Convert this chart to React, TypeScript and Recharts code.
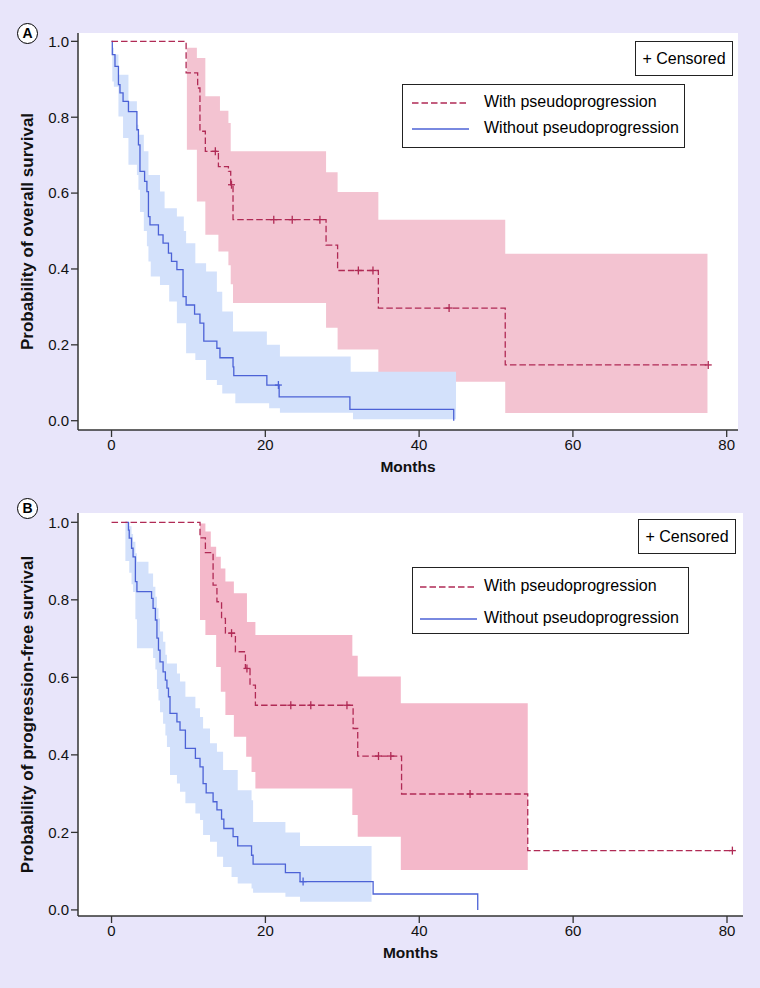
import React from 'react';
import { ComposedChart, Line, Area, Scatter, XAxis, YAxis, CartesianGrid } from 'recharts';

const FONT = '"Liberation Sans", Arial, Helvetica, sans-serif';
const BG = '#E8E5FA';
const PINK_LINE = '#B02A55';
const BLUE_LINE = '#4C62D6';
const PINK_BAND_A = '#F3C3D1';
const PINK_BAND_B = '#F4B8CA';
const BLUE_BAND = '#D3E1FB';

const monthTicks = [0, 20, 40, 60, 80];
const probTicks = [0, 0.2, 0.4, 0.6, 0.8, 1.0];

// ---- A: overall survival, with pseudoprogression ----
const withOsTime = [0, 9.7, 11.2, 11.5, 12.2, 13.9, 15.2, 15.5, 15.8, 27.9, 29.4, 34.7, 51.2, 77.6];
const withOsSurv = [1.0, 0.917, 0.877, 0.763, 0.71, 0.67, 0.657, 0.622, 0.53, 0.463, 0.396, 0.297, 0.147, 0.147];
const withOsBandTime = [9.8, 11.1, 12.2, 13.9, 14.1, 15.2, 15.5, 15.8, 27.9, 29.4, 34.7, 51.2, 77.5];
const withOsLower = [0.714, 0.578, 0.49, 0.446, 0.446, 0.41, 0.36, 0.31, 0.245, 0.188, 0.103, 0.02, 0.02];
const withOsUpper = [0.983, 0.956, 0.855, 0.855, 0.817, 0.785, 0.71, 0.71, 0.655, 0.603, 0.53, 0.44, 0.44];
const withOsCensTime = [13.5, 15.6, 21.1, 23.5, 27.1, 32.1, 34.0, 43.9, 77.6];
const withOsCensSurv = [0.71, 0.622, 0.53, 0.53, 0.53, 0.396, 0.396, 0.297, 0.147];

// ---- A: overall survival, without pseudoprogression ----
const withoutOsTime = [0, 0.1, 0.45, 0.9, 1.1, 1.5, 2.2, 3.3, 3.5, 3.7, 4.3, 4.6, 4.8, 5.0, 6.1, 6.7, 7.4, 7.8, 8.5, 9.3, 9.7, 10.8, 11.5, 12.0, 13.7, 14.1, 15.8, 15.9, 20.2, 21.8, 31.0, 44.5];
const withoutOsSurv = [1.0, 0.965, 0.934, 0.886, 0.864, 0.842, 0.815, 0.767, 0.727, 0.657, 0.631, 0.604, 0.538, 0.516, 0.49, 0.468, 0.442, 0.42, 0.398, 0.327, 0.305, 0.281, 0.257, 0.21, 0.191, 0.166, 0.142, 0.119, 0.094, 0.063, 0.03, 0.0];
const withoutOsBandTime = [0.1, 0.3, 0.9, 1.5, 2.2, 3.3, 3.5, 3.7, 4.2, 4.6, 4.8, 5.1, 6.3, 6.9, 7.5, 8.5, 9.4, 9.7, 10.9, 12.3, 13.7, 14.4, 15.8, 16.1, 20.2, 20.5, 21.9, 31.1, 31.4, 44.8];
const withoutOsLower = [0.894, 0.88, 0.802, 0.745, 0.675, 0.648, 0.609, 0.55, 0.5, 0.46, 0.42, 0.38, 0.358, 0.358, 0.314, 0.257, 0.257, 0.178, 0.16, 0.107, 0.094, 0.072, 0.072, 0.046, 0.046, 0.033, 0.021, 0.021, 0.004, 0.004];
const withoutOsUpper = [0.983, 0.965, 0.912, 0.912, 0.842, 0.78, 0.754, 0.754, 0.71, 0.71, 0.648, 0.648, 0.604, 0.56, 0.56, 0.538, 0.5, 0.468, 0.415, 0.393, 0.34, 0.288, 0.235, 0.235, 0.2, 0.2, 0.169, 0.129, 0.129, 0.129];
const withoutOsCensTime = [21.7];
const withoutOsCensSurv = [0.094];

// ---- B: progression-free survival, with pseudoprogression ----
const withPfsTime = [0, 11.5, 12.2, 13.2, 13.7, 14.3, 14.8, 16.1, 17.4, 18.0, 18.7, 31.4, 32.0, 37.7, 54.1, 80.7];
const withPfsSurv = [1.0, 0.96, 0.922, 0.838, 0.795, 0.752, 0.714, 0.666, 0.623, 0.58, 0.528, 0.468, 0.397, 0.299, 0.153, 0.153];
const withPfsBandTime = [11.5, 12.2, 12.9, 13.6, 14.2, 14.8, 15.9, 17.5, 17.6, 18.2, 18.7, 31.3, 32.0, 37.6, 54.1];
const withPfsLower = [0.748, 0.709, 0.709, 0.627, 0.563, 0.503, 0.447, 0.395, 0.395, 0.356, 0.313, 0.245, 0.189, 0.103, 0.103];
const withPfsUpper = [0.997, 0.976, 0.937, 0.911, 0.881, 0.847, 0.817, 0.817, 0.743, 0.743, 0.709, 0.656, 0.602, 0.533, 0.533];
const withPfsCensTime = [15.6, 17.6, 23.3, 25.9, 30.6, 34.7, 36.3, 46.6, 80.7];
const withPfsCensSurv = [0.714, 0.623, 0.528, 0.528, 0.528, 0.397, 0.397, 0.299, 0.153];

// ---- B: progression-free survival, without pseudoprogression ----
const withoutPfsTime = [1.8, 2.2, 2.3, 2.6, 2.8, 3.1, 3.3, 5.2, 5.4, 5.7, 5.9, 6.1, 6.3, 6.7, 7.0, 7.2, 7.4, 7.6, 8.5, 8.9, 9.6, 10.9, 11.5, 11.9, 12.3, 13.2, 13.7, 14.3, 14.6, 15.8, 16.4, 18.2, 18.4, 22.6, 24.5, 34.0, 47.6];
const withoutPfsSurv = [1.0, 0.98, 0.959, 0.933, 0.911, 0.847, 0.821, 0.804, 0.778, 0.748, 0.701, 0.67, 0.64, 0.614, 0.593, 0.572, 0.55, 0.507, 0.485, 0.464, 0.417, 0.391, 0.369, 0.326, 0.302, 0.279, 0.258, 0.234, 0.21, 0.189, 0.165, 0.141, 0.118, 0.096, 0.073, 0.041, 0.0];
const withoutPfsBandTime = [1.8, 2.3, 2.6, 2.8, 3.1, 3.3, 4.8, 5.4, 5.7, 5.9, 6.1, 6.3, 6.7, 7.0, 7.2, 7.6, 8.5, 8.9, 9.6, 10.9, 11.5, 11.9, 12.8, 13.7, 14.5, 15.6, 16.4, 18.2, 18.4, 22.6, 24.5, 33.8];
const withoutPfsLower = [0.9, 0.87, 0.84, 0.82, 0.75, 0.675, 0.675, 0.65, 0.62, 0.57, 0.54, 0.51, 0.48, 0.45, 0.42, 0.348, 0.326, 0.305, 0.275, 0.249, 0.232, 0.193, 0.176, 0.137, 0.111, 0.085, 0.068, 0.055, 0.044, 0.034, 0.021, 0.021];
const withoutPfsUpper = [1.0, 0.99, 0.97, 0.95, 0.92, 0.898, 0.868, 0.834, 0.808, 0.778, 0.752, 0.718, 0.692, 0.658, 0.636, 0.636, 0.61, 0.589, 0.55, 0.52, 0.498, 0.468, 0.43, 0.408, 0.361, 0.361, 0.309, 0.283, 0.227, 0.2, 0.165, 0.165];
const withoutPfsCensTime = [24.9];
const withoutPfsCensSurv = [0.073];

const steps = (t: number[], s: number[]) => t.map((v, i) => ({ t: v, s: s[i] }));
const band = (t: number[], lo: number[], hi: number[]) => t.map((v, i) => ({ t: v, ci: [lo[i], hi[i]] }));

const Censor = (props: any) => {
  const { cx, cy, color } = props;
  if (cx == null || cy == null) return null;
  return (
    <g>
      <line x1={cx} x2={cx} y1={cy - 4} y2={cy + 4} stroke={color} strokeWidth={1.3} />
      <line x1={cx - 3.5} x2={cx + 3.5} y1={cy} y2={cy} stroke={color} strokeWidth={1.3} />
    </g>
  );
};

const Legend2 = ({ left, top, w, h, lineX, textX, pinkY, blueY }: any) => (
  <>
    <div style={{ position: 'absolute', left: left.c, top: top.c, width: w.c, height: h.c, border: '1px solid #222', background: '#fff', boxSizing: 'border-box', fontSize: 16, fontFamily: FONT, display: 'flex', alignItems: 'center', justifyContent: 'center' }}>
      + Censored
    </div>
    <div style={{ position: 'absolute', left: left.l, top: top.l, width: w.l, height: h.l, border: '1px solid #222', background: '#fff', boxSizing: 'border-box', fontFamily: FONT, fontSize: 16 }}>
      <svg width={70} height={h.l - 2} style={{ position: 'absolute', left: 0, top: 0 }}>
        <line x1={lineX} x2={lineX + 57} y1={pinkY} y2={pinkY} stroke={PINK_LINE} strokeWidth={1.3} strokeDasharray="6.5 3" />
        <line x1={lineX} x2={lineX + 57} y1={blueY} y2={blueY} stroke={BLUE_LINE} strokeWidth={1.3} />
      </svg>
      <div style={{ position: 'absolute', left: textX, top: pinkY - 10, whiteSpace: 'nowrap' }}>With pseudoprogression</div>
      <div style={{ position: 'absolute', left: textX, top: blueY - 10, whiteSpace: 'nowrap' }}>Without pseudoprogression</div>
    </div>
  </>
);

const Badge = ({ letter, x, y }: any) => (
  <div style={{ position: 'absolute', left: x - 10.5, top: y - 10.5, width: 21, height: 21, borderRadius: '50%', border: '1.6px solid #000', background: '#fff', boxSizing: 'border-box', fontFamily: FONT, fontWeight: 700, fontSize: 14, lineHeight: '18px', textAlign: 'center' }}>
    {letter}
  </div>
);

const Panel = ({ top, height, margin, yDomain, xDomain, yTitle, withLine, withBand, withCens, withoutLine, withoutBand, withoutCens, pinkBand }: any) => {
  const plotTop = margin.top;
  const plotBottom = height - margin.bottom - 30;
  const yMid = (plotTop + plotBottom) / 2;
  const xMid = (78 + (760 - margin.right)) / 2;
  return (
    <div style={{ position: 'absolute', left: 0, top, width: 760, height }}>
      <ComposedChart width={760} height={height} margin={margin}>
        <CartesianGrid fill="#fff" stroke="none" horizontal={false} vertical={false} />
        <XAxis
          type="number"
          dataKey="t"
          domain={xDomain}
          ticks={monthTicks}
          allowDataOverflow
          height={30}
          tickSize={7}
          axisLine={{ stroke: '#333', strokeWidth: 1.5 }}
          tickLine={{ stroke: '#333', strokeWidth: 1.3 }}
          tick={{ fill: '#111', fontSize: 15, fontFamily: FONT }}
          label={{
            content: () => (
              <text x={xMid} y={plotBottom + 36} textAnchor="middle" dominantBaseline="central" fontFamily={FONT} fontWeight={700} fontSize={15.5} fill="#111">
                Months
              </text>
            ),
          }}
        />
        <YAxis
          type="number"
          domain={yDomain}
          ticks={probTicks}
          allowDataOverflow
          width={60}
          tickSize={7}
          tickFormatter={(v: number) => v.toFixed(1)}
          axisLine={{ stroke: '#333', strokeWidth: 1.5 }}
          tickLine={{ stroke: '#333', strokeWidth: 1.3 }}
          tick={{ fill: '#111', fontSize: 15, fontFamily: FONT }}
          label={{
            content: () => (
              <text x={27.5} y={yMid} transform={`rotate(-90 27.5 ${yMid})`} textAnchor="middle" dominantBaseline="central" fontFamily={FONT} fontWeight={700} fontSize={17} fill="#111">
                {yTitle}
              </text>
            ),
          }}
        />
        <Area data={withBand} dataKey="ci" type="stepAfter" stroke="none" fill={pinkBand} fillOpacity={1} isAnimationActive={false} />
        <Area data={withoutBand} dataKey="ci" type="stepAfter" stroke="none" fill={BLUE_BAND} fillOpacity={1} isAnimationActive={false} />
        <Line data={withoutLine} dataKey="s" type="stepAfter" stroke={BLUE_LINE} strokeWidth={1.3} dot={false} isAnimationActive={false} />
        <Line data={withLine} dataKey="s" type="stepAfter" stroke={PINK_LINE} strokeWidth={1.3} strokeDasharray="6.5 3" dot={false} isAnimationActive={false} />
        <Scatter data={withoutCens} dataKey="s" shape={(p: any) => <Censor {...p} color={BLUE_LINE} />} isAnimationActive={false} />
        <Scatter data={withCens} dataKey="s" shape={(p: any) => <Censor {...p} color={PINK_LINE} />} isAnimationActive={false} />
      </ComposedChart>
    </div>
  );
};

export default function App() {
  return (
    <div style={{ position: 'absolute', left: 0, top: 0, width: 760, height: 988, background: BG, overflow: 'hidden' }}>
      <Panel
        top={0}
        height={490}
        margin={{ top: 33, right: 22, bottom: 30, left: 18 }}
        yDomain={[-0.0245, 1.022]}
        xDomain={[-4.36, 81.47]}
        yTitle="Probability of overall survival"
        withLine={steps(withOsTime, withOsSurv)}
        withBand={band(withOsBandTime, withOsLower, withOsUpper)}
        withCens={steps(withOsCensTime, withOsCensSurv)}
        withoutLine={steps(withoutOsTime, withoutOsSurv)}
        withoutBand={band(withoutOsBandTime, withoutOsLower, withoutOsUpper)}
        withoutCens={steps(withoutOsCensTime, withoutOsCensSurv)}
        pinkBand={PINK_BAND_A}
      />
      <Panel
        top={490}
        height={498}
        margin={{ top: 23, right: 17, bottom: 42, left: 18 }}
        yDomain={[-0.0157, 1.024]}
        xDomain={[-4.36, 82.08]}
        yTitle="Probability of progression-free survival"
        withLine={steps(withPfsTime, withPfsSurv)}
        withBand={band(withPfsBandTime, withPfsLower, withPfsUpper)}
        withCens={steps(withPfsCensTime, withPfsCensSurv)}
        withoutLine={steps(withoutPfsTime, withoutPfsSurv)}
        withoutBand={band(withoutPfsBandTime, withoutPfsLower, withoutPfsUpper)}
        withoutCens={steps(withoutPfsCensTime, withoutPfsCensSurv)}
        pinkBand={PINK_BAND_B}
      />
      <Legend2
        left={{ c: 635, l: 402 }}
        top={{ c: 41, l: 84 }}
        w={{ c: 98, l: 283 }}
        h={{ c: 35, l: 64 }}
        lineX={9}
        textX={81}
        pinkY={18}
        blueY={44}
      />
      <Legend2
        left={{ c: 638, l: 412 }}
        top={{ c: 519, l: 567 }}
        w={{ c: 98, l: 277 }}
        h={{ c: 35, l: 67 }}
        lineX={7}
        textX={71}
        pinkY={19}
        blueY={51}
      />
      <Badge letter="A" x={27.5} y={33.3} />
      <Badge letter="B" x={27.5} y={508} />
    </div>
  );
}
